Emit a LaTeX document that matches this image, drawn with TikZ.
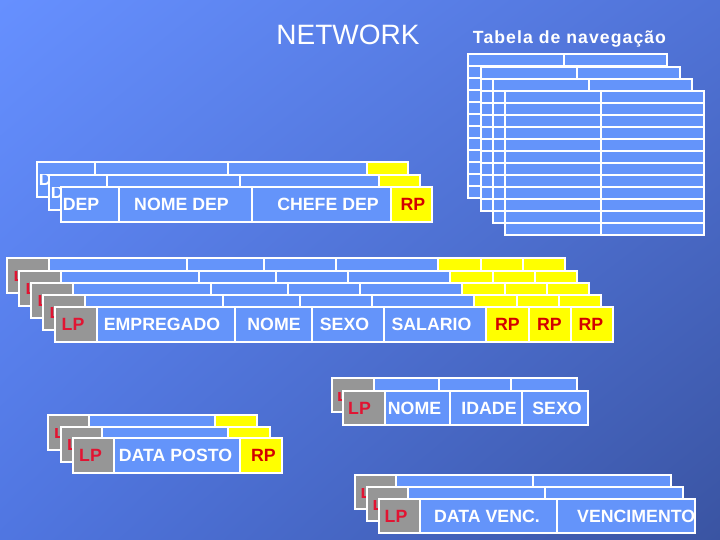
\documentclass[tikz,border=0pt]{standalone}
\usepackage{fontspec}
\setmainfont{Liberation Sans}
\usetikzlibrary{shadings}
\definecolor{cellblue}{RGB}{100,148,250}
\definecolor{ylw}{RGB}{255,255,0}
\definecolor{lpgray}{RGB}{150,150,150}
\definecolor{lpred}{RGB}{225,20,50}
\definecolor{rpred}{RGB}{210,0,0}
\definecolor{bgUL}{RGB}{102,144,255}
\definecolor{bgUR}{RGB}{80,115,215}
\definecolor{bgLL}{RGB}{80,118,225}
\definecolor{bgLR}{RGB}{58,84,162}
\begin{document}
\begin{tikzpicture}[x=1bp,y=-1bp,
  cell/.style={draw=white,line width=2bp,fill=cellblue},
  ycell/.style={draw=white,line width=2bp,fill=ylw},
  gcell/.style={draw=white,line width=2bp,fill=lpgray},
  txt/.style={anchor=base,inner sep=0pt,text=white,font=\fontsize{17.8}{20}\selectfont\bfseries},
  lptxt/.style={txt,text=lpred},
  rptxt/.style={txt,text=rpred}]
\useasboundingbox (0,0) rectangle (720,540);
\shade[upper left=bgUL,upper right=bgUR,lower left=bgLL,lower right=bgLR] (0,0) rectangle (720,540);

% titles
\node[anchor=base,inner sep=0pt,text=white,font=\fontsize{28.1}{30}\selectfont] (title) at (348,45) {NETWORK};
\node[anchor=base,inner sep=0pt,text=white,font=\fontsize{17.7}{20}\selectfont\bfseries\addfontfeature{LetterSpace=6}] (tabtitle) at (569.5,43.3) {Tabela de navegação};

% navigation tables
\foreach \x/\y in {468/54,481/67,493/79,505/91}{
  \begin{scope}[shift={(\x,\y)}]
    \foreach \r in {0,...,11}{
      \filldraw[cell] (0,\r*12) rectangle (96,\r*12+12);
      \filldraw[cell] (96,\r*12) rectangle (199,\r*12+12);
    }
  \end{scope}
}

% DEP records, back to front (c = top of the visible text band)
\foreach \x/\y/\c in {37/162/13,49/175/13,61/187/0}{
  \begin{scope}[shift={(\x,\y)}]
    \filldraw[cell] (0,0) rectangle (58,35);
    \filldraw[cell] (58,0) rectangle (191,35);
    \filldraw[cell] (191,0) rectangle (330,35);
    \filldraw[ycell] (330,0) rectangle (371,35);
    \begin{scope}
      \clip (0,\c) rectangle (371,35);
      \node[txt] (dep-\x) at (20,23.6) {DEP};
      \node[txt] (nomedep-\x) at (120.5,23.6) {NOME DEP};
      \node[txt] (chefe-\x) at (267,23.6) {CHEFE DEP};
      \node[rptxt] (rpdep-\x) at (352,23.6) {RP};
    \end{scope}
  \end{scope}
}

% EMPREGADO records, back to front
\foreach \x/\y/\c in {7/258/13,19/270.5/13,31/282.5/13,43/294.5/13,55/307/0}{
  \begin{scope}[shift={(\x,\y)}]
    \filldraw[gcell] (0,0) rectangle (42,35);
    \filldraw[cell] (42,0) rectangle (180,35);
    \filldraw[cell] (180,0) rectangle (257,35);
    \filldraw[cell] (257,0) rectangle (329,35);
    \filldraw[cell] (329,0) rectangle (431,35);
    \filldraw[ycell] (431,0) rectangle (474,35);
    \filldraw[ycell] (474,0) rectangle (516,35);
    \filldraw[ycell] (516,0) rectangle (558,35);
    \begin{scope}
      \clip (0,\c) rectangle (558,35);
      \node[lptxt] (lpe-\x) at (18,23.6) {LP};
      \node[txt] (emp-\x) at (107,23.6) {EMPREGADO};
      \node[txt] (nome-\x) at (219,23.6) {NOME};
      \node[txt] (sexo-\x) at (289.5,23.6) {SEXO};
      \node[txt] (sal-\x) at (376.5,23.6) {SALARIO};
      \node[rptxt] (rpa-\x) at (452.5,23.6) {RP};
      \node[rptxt] (rpb-\x) at (494.5,23.6) {RP};
      \node[rptxt] (rpc-\x) at (536,23.6) {RP};
    \end{scope}
  \end{scope}
}

% NOME IDADE SEXO records, back to front
\foreach \x/\y/\c in {332/378/14,343/391/0}{
  \begin{scope}[shift={(\x,\y)}]
    \filldraw[gcell] (0,0) rectangle (42,34);
    \filldraw[cell] (42,0) rectangle (107,34);
    \filldraw[cell] (107,0) rectangle (179,34);
    \filldraw[cell] (179,0) rectangle (245,34);
    \begin{scope}
      \clip (0,\c) rectangle (245,34);
      \node[lptxt] (lpd-\x) at (16.5,23.3) {LP};
      \node[txt] (nomed-\x) at (71.5,23.3) {NOME};
      \node[txt] (idade-\x) at (146,23.3) {IDADE};
      \node[txt] (sexod-\x) at (214,23.3) {SEXO};
    \end{scope}
  \end{scope}
}

% DATA POSTO records, back to front
\foreach \x/\y/\c in {48/415/13,61/427/12,73/438/0}{
  \begin{scope}[shift={(\x,\y)}]
    \filldraw[gcell] (0,0) rectangle (41,35);
    \filldraw[cell] (41,0) rectangle (167,35);
    \filldraw[ycell] (167,0) rectangle (209,35);
    \begin{scope}
      \clip (0,\c) rectangle (209,35);
      \node[lptxt] (lpp-\x) at (17.5,23.6) {LP};
      \node[txt] (posto-\x) at (102.5,23.6) {DATA POSTO};
      \node[rptxt] (rpp-\x) at (190.5,23.6) {RP};
    \end{scope}
  \end{scope}
}

% VENCIMENTO records, back to front
\foreach \x/\y/\c in {355/475/13,367/487/13,379/499/0}{
  \begin{scope}[shift={(\x,\y)}]
    \filldraw[gcell] (0,0) rectangle (41,34);
    \filldraw[cell] (41,0) rectangle (178,34);
    \filldraw[cell] (178,0) rectangle (316,34);
    \begin{scope}
      \clip (0,\c) rectangle (330,34);
      \node[lptxt] (lpv-\x) at (17,23.3) {LP};
      \node[txt] (dvenc-\x) at (108,23.3) {DATA VENC.};
      \node[txt,anchor=base west] (venc-\x) at (198,23.3) {VENCIMENTO};
    \end{scope}
  \end{scope}
}
\end{tikzpicture}
\end{document}
